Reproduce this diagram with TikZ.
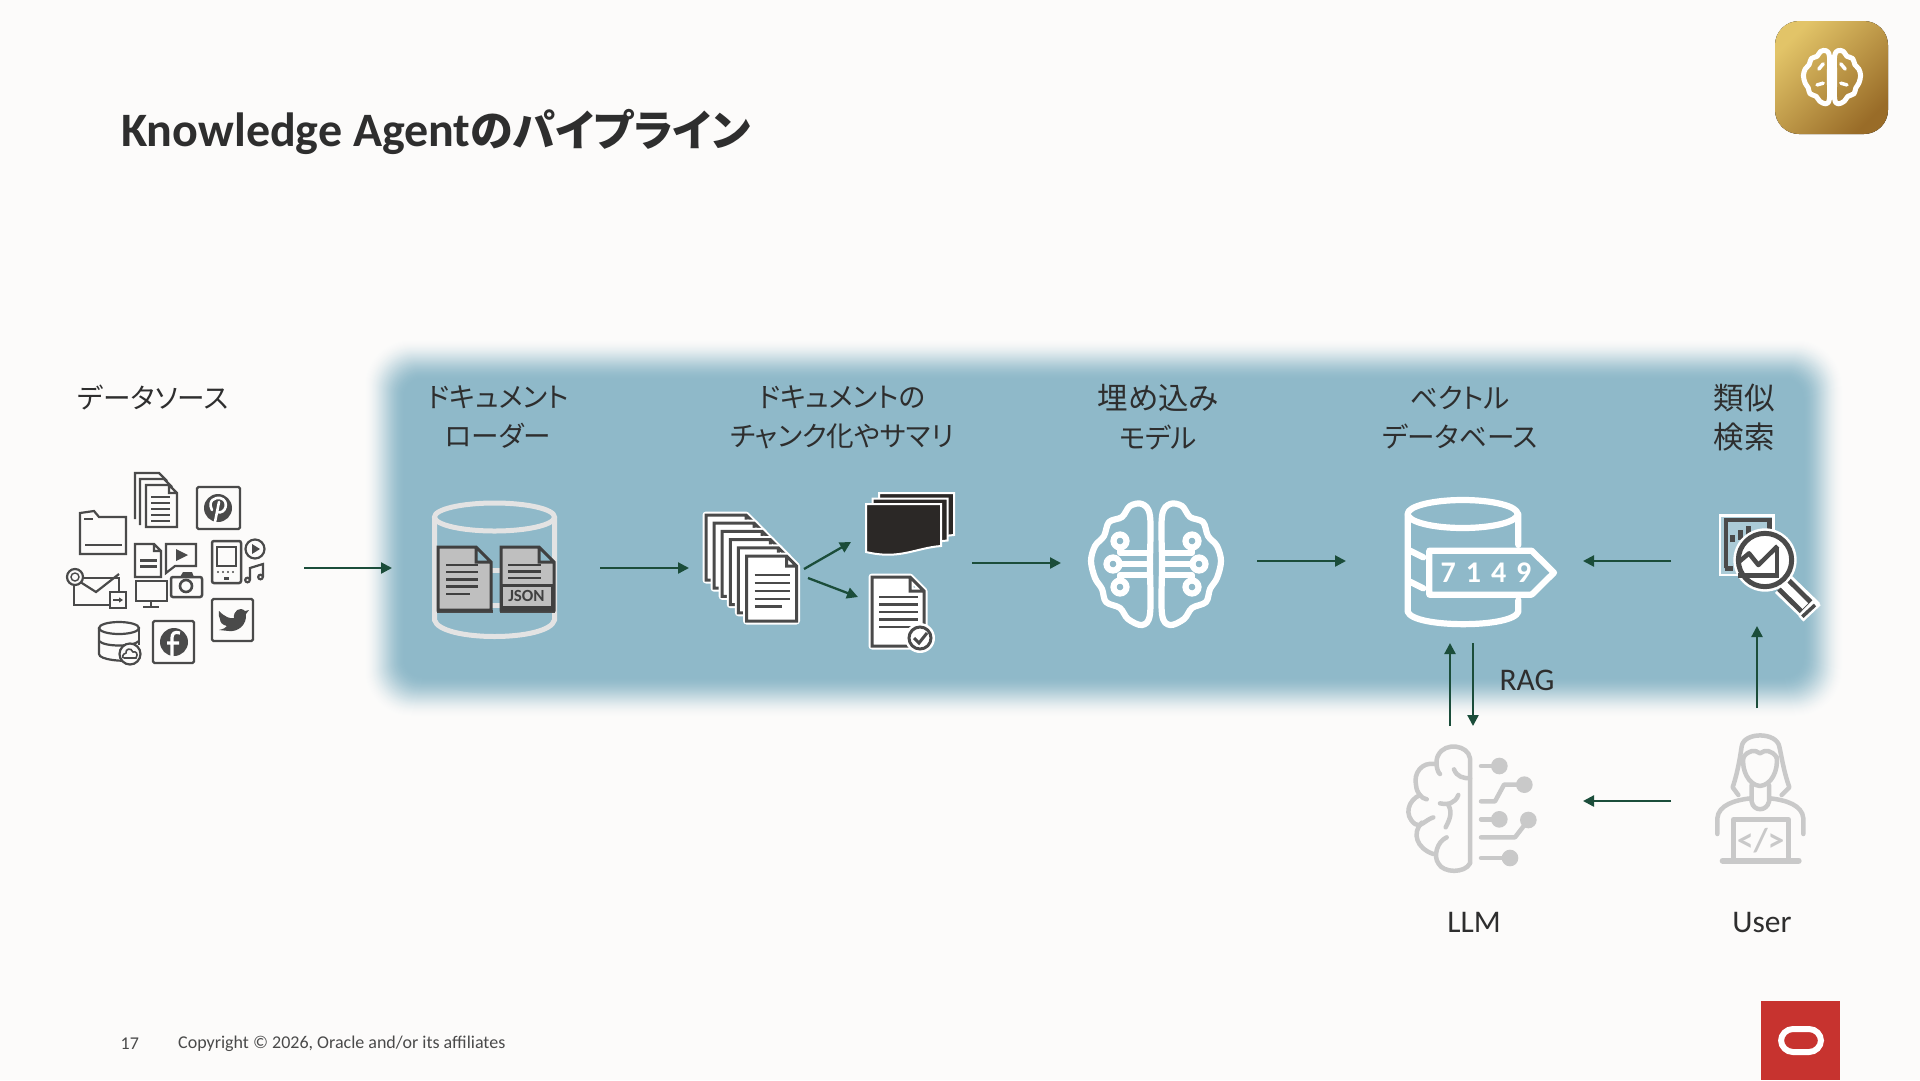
\documentclass[tikz,border=0pt]{standalone}
\usepackage{fontspec}
\setmainfont{Carlito}
\newfontfamily\cjk[RawFeature=+palt]{Noto Sans CJK JP}
\usetikzlibrary{arrows.meta}
\definecolor{bgc}{HTML}{FCFBFA}
\definecolor{panelc}{HTML}{8FB9C9}
\definecolor{flow}{HTML}{1B4D3A}
\definecolor{ink}{HTML}{4A4A4A}
\definecolor{soft}{HTML}{C9C9C9}
\definecolor{txt}{HTML}{2E2E2E}
\definecolor{goldA}{HTML}{E2C468}
\definecolor{goldB}{HTML}{996C28}
\definecolor{orared}{HTML}{C7332F}
\definecolor{cylc}{HTML}{E3E3E3}
\definecolor{sheet}{HTML}{2B2826}
\newcommand\pagedoc[6]{\draw[#6] (#1,#2) -- (#1+#3-#5,#2) -- (#1+#3,#2+#5) -- (#1+#3,#2+#4) -- (#1,#2+#4) -- cycle (#1+#3-#5,#2) -- (#1+#3-#5,#2+#5) -- (#1+#3,#2+#5);}
\newcommand\wpage[5]{\pagedoc{#1}{#2}{#3}{#4}{#5}{line width=7pt,white,fill=white,line join=round}\pagedoc{#1}{#2}{#3}{#4}{#5}{line width=3pt,ink,fill=white}}
\newcommand\doclines[5]{\foreach \k in {0,...,#5}{\draw[line width=2.5pt,ink] (#1,#2+\k*#4) -- (#1+#3,#2+\k*#4);}}
\newcommand\lobe{plot[smooth cycle,tension=.55] coordinates {(-6,-48) (-14,-60) (-26,-58) (-34,-47) (-47,-42) (-52,-28) (-61,-18) (-65,-3) (-61,14) (-54,25) (-50,38) (-36,44) (-28,55) (-14,61) (-6,50) (-6,0)}}
\newcommand\boxicon[4]{\draw[line width=2.2pt,ink,rounded corners=1.5pt] (#1,#2) rectangle (#3,#4);}
\tikzset{
  flowarrow/.style={draw=flow,line width=2.3pt,-{Triangle[length=11pt,width=11pt]}},
  stage/.style={text=txt,align=center,font=\fontsize{27.6}{39}\selectfont\cjk,inner sep=0pt},
  stagewide/.style={text=txt,align=center,font=\fontsize{30.5}{39}\selectfont\cjk,inner sep=0pt},
  tag/.style={text=txt,font=\fontsize{31.5}{36}\selectfont,inner sep=0pt},
  foot/.style={text=ink,font=\fontsize{18}{22}\selectfont,inner sep=0pt,anchor=west},
  thin ink/.style={line width=2.2pt,ink},
  lineart/.style={line width=6.2pt,white,line cap=round,line join=round},
  softline/.style={line width=4.5pt,soft,line cap=round,line join=round},
}
\begin{document}
\begin{tikzpicture}[x=1pt,y=-1pt]
\useasboundingbox (0,0) rectangle (1920,1080);
\fill[bgc] (0,0) rectangle (1920,1080);
% blurred panel
\foreach \i in {0,...,42}{
  \pgfmathsetmacro\t{\i/42}
  \pgfmathsetmacro\p{100*\t*\t*(3-2*\t)}
  \pgfmathsetmacro\r{48-\i*.7}
  \fill[panelc!\p!bgc,rounded corners=\r pt] (363+\i,338+\i) rectangle (1844-\i,718-\i);
}
% title
\node[anchor=west,inner sep=0pt,text=txt,font=\fontsize{48}{50}\selectfont\bfseries] (title) at (121,132) {Knowledge Agent{\fontsize{43}{50}\selectfont\cjk のパイプライン}};
% badge
\fill[left color=goldA,right color=goldB,shading angle=45,rounded corners=24pt] (1775,21) rectangle (1888,134);
\begin{scope}[shift={(1832,77)},scale=.44]
  \draw[line width=5pt,white,line join=round] \lobe;
  \begin{scope}[xscale=-1]\draw[line width=5pt,white,line join=round] \lobe;\end{scope}
  \draw[line width=3.5pt,white,line cap=round] (-20,-30) -- (-30,-18) (20,-30) -- (30,-18) (-8,18) -- (0,8) -- (8,18) (-34,18) -- (-20,14) (34,18) -- (20,14);
\end{scope}
% labels
\node[stage] (lblsrc) at (153,398) {データソース};
\node[stage] (lblload) at (498,417.5) {ドキュメント\\ローダー};
\node[stage] (lblchunk) at (842,417.5) {ドキュメントの\\チャンク化やサマリ};
\node[stage] (lblembed) at (1158,417.5) {{\fontsize{30.5}{39}\selectfont 埋め込み}\\モデル};
\node[stage] (lblvec) at (1460,417.5) {ベクトル\\データベース};
\node[stagewide] (lblsim) at (1744,417.5) {類似\\検索};
\node[tag] (lblrag) at (1527,680) {RAG};
\node[tag] (lblllm) at (1474,922) {LLM};
\node[tag] (lbluser) at (1762,922) {User};
\node[foot] (pageno) at (120.5,1044) {17};
\node[foot] (copyr) at (178,1044) {Copyright © 2026, Oracle and/or its affiliates};
% oracle
\fill[fill=orared] (1761,1001) rectangle (1840,1080);
\draw[white,line width=6pt,rounded corners=12pt] (1781,1029) rectangle (1821,1052);

% === source cluster ===
% stack of documents
\foreach \a/\b in {135/473,140/479}{\draw[thin ink] (\a,\b+46) -- (\a,\b) -- (\a+24,\b) -- (\a+32,\b+8);}
\pagedoc{146}{485}{31}{42}{8}{thin ink,fill=bgc}
\doclines{151}{497}{19}{6}{4}
% pinterest
\boxicon{197}{487}{240}{529}
\fill[ink] (218,508) circle[radius=14];
\draw[white,line width=2.6pt,line cap=round] (215,522) -- (219,502) (212,510) .. controls (207,500) and (216,497) .. (220,498) .. controls (230,500) and (226,515) .. (217,512);
% folder
\draw[thin ink] (80,554) -- (80,513) -- (94,511) -- (99,517) -- (126,517) -- (126,554) -- cycle;
\draw[line width=2pt,ink] (85,545) -- (122,545) (84,519) -- (93,519);
% small doc and video
\pagedoc{135}{544}{26}{33}{7}{thin ink}
\draw[line width=3pt,ink] (140,560) -- (157,560) (140,566) -- (157,566);
\draw[thin ink] (166,544) -- (196,544) -- (196,566) -- (175,566) -- (166,573) -- cycle;
\fill[ink] (176,549) -- (188,555) -- (176,561) -- cycle;
% phone
\draw[line width=2.5pt,ink,rounded corners=2pt] (212,541) rectangle (241,583);
\draw[thin ink] (217,547) rectangle (236,566);
\foreach \q in {218,223,228,233}{\fill[ink] (\q,572) circle[radius=1.2];}
\fill[ink] (224,577) rectangle (229,580);
% play, music
\draw[thin ink] (255,549) circle[radius=9.5];
\fill[ink] (252,544) -- (260,549) -- (252,554) -- cycle;
\draw[thin ink] (250,580) -- (250,568) -- (263,564) -- (263,577);
\draw[thin ink] (247.5,580) circle[radius=2.3] (260.5,577) circle[radius=2.3];
% camera
\draw[line width=2.5pt,ink,fill=bgc,rounded corners=2pt] (171,577) rectangle (202,597);
\fill[ink] (180,577) -- (183,572) -- (192,572) -- (194,577) -- cycle;
\draw[line width=2.6pt,ink] (186,586) circle[radius=6];
% monitor
\draw[thin ink] (136,581) rectangle (167,601);
\draw[line width=2.4pt,ink] (151,601) -- (151,606) (143,607) -- (159,607);
% envelope
\draw[thin ink,fill=bgc] (74,578) rectangle (119,605);
\draw[thin ink] (74,578) -- (96,592) -- (119,574);
\draw[thin ink,fill=bgc] (75,577) circle[radius=8];
\draw[line width=1.4pt,ink] (75,577) circle[radius=4];
\draw[thin ink,fill=bgc] (110,592) rectangle (126,608);
\draw[line width=1.5pt,ink,-{Triangle[length=4pt,width=5pt]}] (113,600) -- (123,600);
% twitter
\boxicon{212}{599}{253}{641}
\fill[ink] (219,611) .. controls (225,617) and (230,619) .. (234,618) .. controls (233,611) and (240,606) .. (245,611) -- (249,610) -- (246,614) .. controls (247,625) and (238,632) .. (229,631) -- (219,630) .. controls (223,629) and (226,628) .. (227,626) .. controls (222,625) and (220,622) .. (220,619) .. controls (219,617) and (218,614) .. (219,611) -- cycle;
% facebook
\boxicon{153}{621}{194}{663}
\fill[ink] (174,642) circle[radius=14];
\draw[white,line width=3.2pt] (180,633) .. controls (174,631) and (172,634) .. (172,638) -- (172,656) (167,643) -- (179,643);
% db + cloud
\draw[thin ink] (99,628) -- (99,654) .. controls (99,660) and (125,662) .. (130,660);
\draw[thin ink] (139,628) -- (139,645);
\draw[thin ink] (119,628) ellipse[x radius=20,y radius=6];
\draw[thin ink] (99,641) .. controls (105,647) and (133,647) .. (139,641);
\draw[thin ink,fill=bgc] (130,654) circle[radius=10.5];
\draw[line width=1.6pt,ink] (124,658) -- (136,658) .. controls (139,653) and (135,651) .. (133,652) .. controls (131,647) and (125,649) .. (126,653) .. controls (122,654) and (122,658) .. (124,658);

% === loader ===
\begin{scope}[line width=5pt]
\draw[cylc] (494.5,517) ellipse[x radius=60,y radius=14];
\draw[cylc] (434.5,517) -- (434.5,620) .. controls (440,642) and (549,642) .. (554.5,620) -- (554.5,517);
\draw[cylc] (440,570) -- (550,570) (440,605) -- (550,605);
\end{scope}
\fill[ink] (437,610) rectangle (493,613);
\fill[ink] (500,610) rectangle (555,613);
\pagedoc{438}{547}{53}{63}{15}{line width=3pt,black!75,fill=black!25}
\pagedoc{501}{547}{53}{63}{15}{line width=3pt,black!75,fill=black!25}
\foreach \k in {0,1,2,3}{\draw[line width=2.3pt,black!75] (446,565+\k*7.2) -- (478,565+\k*7.2);}
\draw[line width=2.3pt,black!75] (446,594) -- (470,594);
\foreach \k in {0,1,2}{\draw[line width=2.3pt,black!75] (508,565+\k*6.5) -- (541,565+\k*6.5);}
\draw[line width=3pt,black!75,fill=black!25] (501,585) rectangle (552,607);
\node[inner sep=0pt,text=black!75,font=\fontsize{17}{18}\selectfont\bfseries] (jsonlbl) at (526.5,596) {JSON};

% === chunk stack ===
\foreach \i in {0,...,5}{\wpage{706+\i*8.1}{515+\i*8.2}{50}{65}{10}}
\doclines{754.5}{575}{35}{8}{3}
\draw[line width=2.5pt,ink] (754.5,606.5) -- (782,606.5);
% black pages
\foreach \d in {2,1,0}{
  \fill[sheet,draw=white,line width=2pt] (866+\d*6.5,504-\d*5.5) -- (941+\d*6.5,504-\d*5.5) -- (941+\d*6.5,546-\d*5.5) .. controls (915+\d*6.5,548-\d*5.5) and (900+\d*6.5,560-\d*5.5) .. (866+\d*6.5,552-\d*5.5) -- cycle;
}
% checked doc
\wpage{872}{577}{52}{69}{14}
\doclines{879}{597}{39}{7.5}{4}
\fill[white] (920,638) circle[radius=15];
\draw[line width=3pt,ink] (920,638) circle[radius=11];
\draw[line width=3pt,ink] (914,638) -- (919,643) -- (927,633);

% === embedding brain ===
\begin{scope}[shift={(1156,564)}]
\foreach \m in {1,-1}{
 \begin{scope}[xscale=\m]
  \draw[lineart] \lobe;
  \draw[lineart] (-36,-23) circle[radius=6.5] (-43,0) circle[radius=6.5] (-36,23) circle[radius=6.5];
  \draw[lineart] (-36,-16) -- (-36,-11) -- (-6,-11) (-36,0) -- (-6,0) (-36,16) -- (-36,11) -- (-6,11);
 \end{scope}}
\end{scope}

% === vector db (zoom coordinates) ===
\begin{scope}[shift={(1380,480)},scale=1/3]
\draw[lineart] (248,102) ellipse[x radius=165,y radius=42];
\draw[lineart] (83,102) -- (83,395) .. controls (100,445) and (400,445) .. (415,395) -- (415,360) (415,102) -- (415,195);
\draw[lineart] (90,212) -- (130,232) (90,305) -- (130,325);
\draw[lineart] (148,212) -- (455,212) -- (522,278) -- (455,344) -- (148,344) -- cycle;
\node[inner sep=0pt,text=white,font=\fontsize{30}{32}\selectfont\bfseries] (vecnum) at (318,278) {7\,\,1\,\,4\,\,9};
\end{scope}

% === search icon ===
\begin{scope}[shift={(1700,500)},scale=1/3]
\draw[white,line width=2.5pt,fill=white!25!panelc] (60,47) rectangle (220,225);
\draw[line width=4.5pt,ink] (78,205) -- (78,60) -- (208,60) -- (208,105) (76,205) -- (100,205);
\draw[line width=5pt,ink] (97,127) -- (97,105) (120,120) -- (120,90) (145,105) -- (145,78);
\draw[white,line width=24pt] (250,253) -- (335,335);
\draw[ink,line width=18pt] (250,253) -- (318,320);
\draw[white,line width=8pt] (250,253) -- (316,318);
\draw[white,line width=7pt] (355,308) -- (303,357);
\draw[ink,line width=3.5pt] (345,315) -- (307,350);
\fill[white] (195,180) circle[radius=95];
\draw[ink,line width=5pt] (195,180) circle[radius=80];
\draw[ink,line width=4.5pt] (231,140) -- (231,226) -- (115,226);
\draw[ink,line width=4.5pt,line join=round] (115,187) -- (147,160) -- (175,195) -- (233,138);
\end{scope}

% === LLM brain ===
\begin{scope}[shift={(1380,700)},scale=1/3]
\draw[softline] (270,490) -- (270,175) .. controls (265,135) and (195,125) .. (175,165) .. controls (165,180) and (170,215) .. (180,222);
\draw[softline] (165,192) .. controls (125,185) and (100,220) .. (108,255) .. controls (110,280) and (125,295) .. (140,298);
\draw[softline] (120,285) .. controls (85,300) and (70,345) .. (105,372) .. controls (120,385) and (135,360) .. (160,352);
\draw[softline] (125,368) .. controls (95,400) and (110,445) .. (160,462);
\draw[softline] (200,412) .. controls (170,425) and (160,470) .. (175,490) .. controls (190,520) and (255,520) .. (270,490);
\draw[softline] (222,208) .. controls (230,230) and (250,235) .. (270,235);
\draw[softline] (235,285) .. controls (225,310) and (205,315) .. (180,310) (205,315) .. controls (220,340) and (205,365) .. (197,382);
\foreach \cx/\cy in {358/198,433/254,358/358,445/360,390/474}{\fill[soft] (\cx,\cy) circle[radius=25];}
\draw[softline] (303,198) -- (358,198);
\draw[softline] (303,304) -- (345,304) -- (372,254) -- (433,254);
\draw[softline] (303,358) -- (358,358);
\draw[softline] (303,412) -- (405,412) -- (445,360);
\draw[softline] (303,474) -- (390,474);
\end{scope}

% === user ===
\begin{scope}[shift={(1380,700)},scale=1/3]
\draw[softline] (1075,285) -- (1058,262) .. controls (1075,210) and (1080,170) .. (1085,140) .. controls (1090,95) and (1190,95) .. (1198,140) .. controls (1205,170) and (1210,210) .. (1228,262) -- (1205,285);
\draw[softline] (1090,172) .. controls (1105,150) and (1125,148) .. (1140,160) .. controls (1155,148) and (1175,150) .. (1190,172);
\draw[softline] (1090,172) .. controls (1085,210) and (1105,255) .. (1140,258) .. controls (1175,255) and (1195,210) .. (1190,172);
\draw[softline] (1115,255) -- (1115,305) .. controls (1120,335) and (1160,335) .. (1167,305) -- (1167,255);
\draw[softline] (1012,402) -- (1012,355) .. controls (1015,315) and (1065,300) .. (1112,295);
\draw[softline] (1270,402) -- (1270,355) .. controls (1267,315) and (1217,300) .. (1170,295);
\draw[softline] (1060,478) -- (1060,358) -- (1225,358) -- (1225,478);
\draw[line width=6pt,soft,line cap=round] (1028,482) -- (1256,482);
\node[inner sep=0pt,text=soft,font=\fontsize{33}{34}\selectfont\bfseries] (codetag) at (1142,423) {</>};
\end{scope}

% === connectors ===
\coordinate (srcout) at (304,568);
\coordinate (loadin) at (392,568);
\coordinate (loadout) at (600,568);
\coordinate (chunkin) at (689,568);
\coordinate (chunkupa) at (804,569);
\coordinate (pagesin) at (851,542);
\coordinate (chunkdna) at (808,578);
\coordinate (sumin) at (858,597);
\coordinate (summout) at (972,563);
\coordinate (embedin) at (1061,563);
\coordinate (embedout) at (1257,561);
\coordinate (vecin) at (1346,561);
\coordinate (simout) at (1671,561);
\coordinate (vecinb) at (1583,561);
\coordinate (llmoutup) at (1450,726);
\coordinate (vecbot) at (1450,643);
\coordinate (vecoutdn) at (1473,643);
\coordinate (llmtop) at (1473,726);
\coordinate (useroutup) at (1757,708);
\coordinate (simbot) at (1757,626);
\coordinate (userleft) at (1671,801);
\coordinate (llmright) at (1583,801);
\draw[flowarrow] (srcout) -- (loadin);
\draw[flowarrow] (loadout) -- (chunkin);
\draw[flowarrow] (chunkupa) -- (pagesin);
\draw[flowarrow] (chunkdna) -- (sumin);
\draw[flowarrow] (summout) -- (embedin);
\draw[flowarrow] (embedout) -- (vecin);
\draw[flowarrow] (simout) -- (vecinb);
\draw[flowarrow] (llmoutup) -- (vecbot);
\draw[flowarrow] (vecoutdn) -- (llmtop);
\draw[flowarrow] (useroutup) -- (simbot);
\draw[flowarrow] (userleft) -- (llmright);
\end{tikzpicture}
\end{document}
